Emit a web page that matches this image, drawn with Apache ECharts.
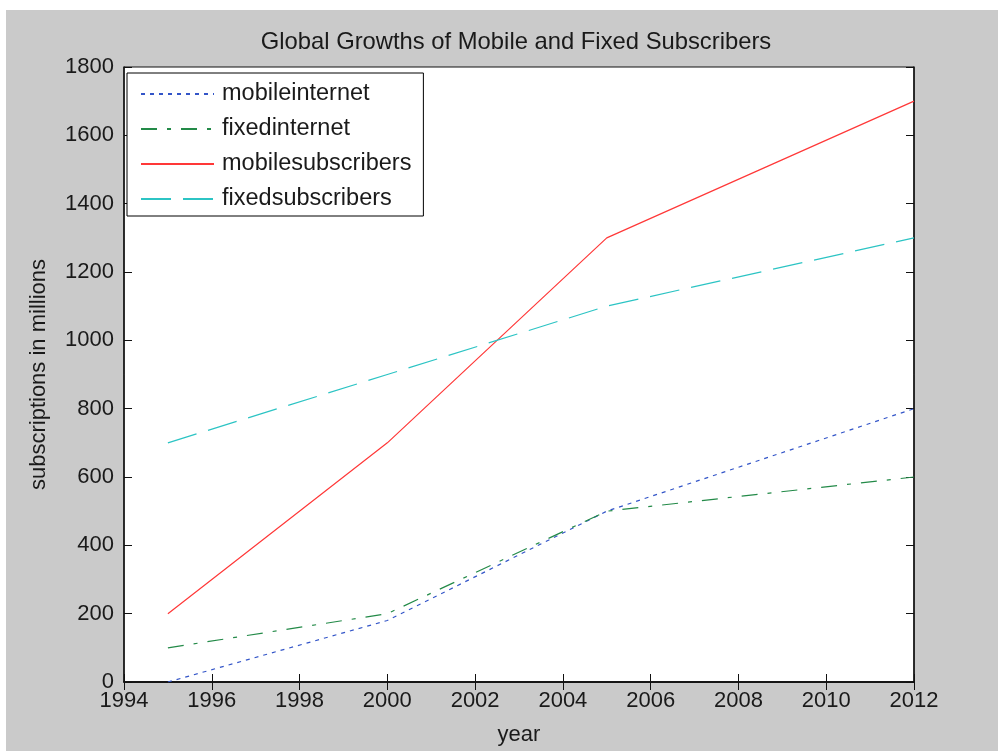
<!DOCTYPE html>
<html>
<head>
<meta charset="utf-8">
<title>Global Growths of Mobile and Fixed Subscribers</title>
<script src="https://cdn.jsdelivr.net/npm/echarts@6/dist/echarts.min.js"></script>
<style>
  html, body { margin: 0; padding: 0; background: #fff; }
  #chart { width: 998px; height: 751px; }
</style>
</head>
<body>
<div id="chart"></div>
<script>
  // data
  var years = [1995, 2000, 2005, 2012];
  var mobileInternet = [0, 180, 500, 800];
  var fixedInternet = [100, 200, 500, 600];
  var mobileSubscribers = [200, 700, 1300, 1700];
  var fixedSubscribers = [700, 900, 1100, 1300];
  var yTicks = [0, 200, 400, 600, 800, 1000, 1200, 1400, 1600, 1800];

  var font = "'Liberation Sans', Arial, sans-serif";

  function pairs(vals) {
    return years.map(function (y, i) { return [y, vals[i]]; });
  }

  function mkSeries(name, vals, color, dash) {
    return {
      name: name,
      type: 'line',
      data: pairs(vals),
      symbol: 'none',
      showSymbol: false,
      animation: false,
      lineStyle: { color: color, width: 1.2, type: dash },
      itemStyle: { color: color }
    };
  }

  function plain(v) { return String(v); }

  var chart = echarts.init(document.getElementById('chart'));

  var option = {
    backgroundColor: '#fff',
    animation: false,
    textStyle: { fontFamily: font },
    graphic: [{
      type: 'rect',
      z: -10,
      silent: true,
      shape: { x: 6, y: 10, width: 992, height: 741 },
      style: { fill: '#cacaca' }
    }],
    title: {
      text: 'Global Growths of Mobile and Fixed Subscribers',
      left: 511,
      top: 25,
      textAlign: 'center',
      textStyle: { fontFamily: font, fontSize: 23.8, fontWeight: 'normal', color: '#1a1a1a' }
    },
    legend: {
      orient: 'vertical',
      left: 127,
      top: 73,
      padding: [9, 12, 5, 13],
      itemWidth: 73,
      itemHeight: 22,
      itemGap: 11,
      itemStyle: { opacity: 0 },
      backgroundColor: '#fff',
      borderColor: '#000',
      borderWidth: 1,
      borderRadius: 0,
      textStyle: { fontFamily: font, fontSize: 23.5, color: '#1a1a1a', padding: [0, 0, 0, 3] },
      data: ['mobileinternet', 'fixedinternet', 'mobilesubscribers', 'fixedsubscribers']
    },
    grid: {
      left: 124,
      top: 67,
      right: 84,
      bottom: 63,
      show: true,
      backgroundColor: '#fff',
      borderColor: '#111',
      borderWidth: 1
    },
    xAxis: [{
      type: 'value',
      min: 1994,
      max: 2012,
      interval: 2,
      name: 'year',
      nameLocation: 'middle',
      nameGap: 42,
      nameTextStyle: { fontFamily: font, fontSize: 22, color: '#1a1a1a' },
      axisLine: { lineStyle: { color: '#111', width: 1.5 } },
      axisTick: { inside: true, length: 8, lineStyle: { color: '#111' } },
      axisLabel: { fontFamily: font, fontSize: 22, color: '#1a1a1a', margin: 8, formatter: plain },
      splitLine: { show: false }
    }, {
      type: 'value',
      position: 'top',
      min: 1994,
      max: 2012,
      interval: 2,
      axisLine: { lineStyle: { color: '#111', width: 1.5 } },
      axisTick: { inside: true, length: 8, lineStyle: { color: '#111' } },
      axisLabel: { show: false },
      splitLine: { show: false }
    }],
    yAxis: [{
      type: 'value',
      min: yTicks[0],
      max: yTicks[yTicks.length - 1],
      interval: 200,
      name: 'subscriptions in millions',
      nameLocation: 'middle',
      nameRotate: 90,
      nameGap: 74,
      nameTextStyle: { fontFamily: font, fontSize: 22, color: '#1a1a1a' },
      axisLine: { show: true, lineStyle: { color: '#111', width: 1.5 } },
      axisTick: { show: true, inside: true, length: 8, lineStyle: { color: '#111' } },
      axisLabel: { fontFamily: font, fontSize: 22, color: '#1a1a1a', margin: 10, formatter: plain },
      splitLine: { show: false }
    }, {
      type: 'value',
      position: 'right',
      min: yTicks[0],
      max: yTicks[yTicks.length - 1],
      interval: 200,
      axisLine: { show: true, lineStyle: { color: '#111', width: 1.5 } },
      axisTick: { show: true, inside: true, length: 8, lineStyle: { color: '#111' } },
      axisLabel: { show: false },
      splitLine: { show: false }
    }],
    series: [
      mkSeries('mobileinternet', mobileInternet, '#3355c8', [4, 5]),
      mkSeries('fixedinternet', fixedInternet, '#238a48', [16, 10, 4, 10]),
      mkSeries('mobilesubscribers', mobileSubscribers, '#ff3838', 'solid'),
      mkSeries('fixedsubscribers', fixedSubscribers, '#2cc4c4', [30, 12])
    ]
  };

  chart.setOption(option);
</script>
</body>
</html>
